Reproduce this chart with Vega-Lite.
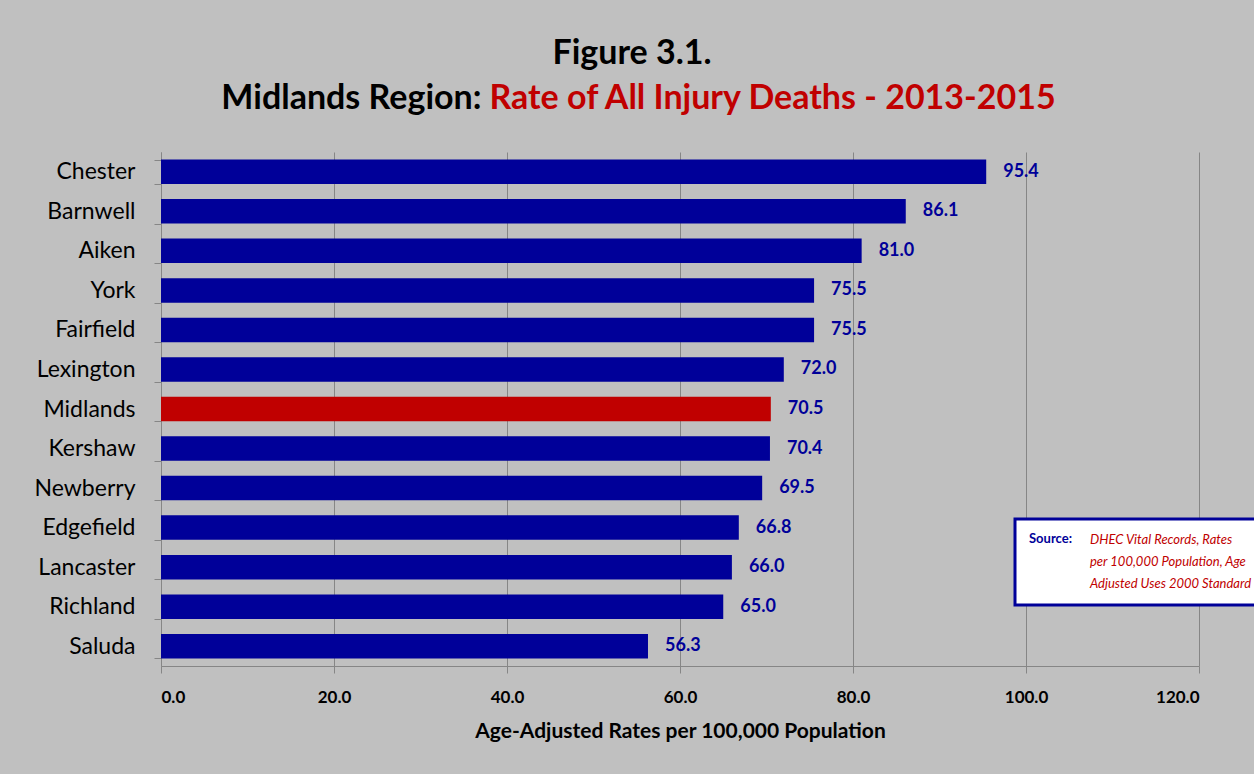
{
  "$schema": "https://vega.github.io/schema/vega-lite/v6.json",
  "width": 1038,
  "height": 514,
  "autosize": {"type": "none"},
  "padding": {"left": 161, "top": 152, "right": 55, "bottom": 108},
  "background": "#C0C0C0",
  "title": {
    "text": "Figure 3.1.",
    "font": "Lato",
    "fontSize": 34,
    "fontWeight": "bold",
    "color": "#000000",
    "anchor": "middle",
    "dx": -48,
    "offset": 10
  },
  "datasets": {
    "rates": [
      {"county": "Chester", "rate": 95.4},
      {"county": "Barnwell", "rate": 86.1},
      {"county": "Aiken", "rate": 81.0},
      {"county": "York", "rate": 75.5},
      {"county": "Fairfield", "rate": 75.5},
      {"county": "Lexington", "rate": 72.0},
      {"county": "Midlands", "rate": 70.5},
      {"county": "Kershaw", "rate": 70.4},
      {"county": "Newberry", "rate": 69.5},
      {"county": "Edgefield", "rate": 66.8},
      {"county": "Lancaster", "rate": 66.0},
      {"county": "Richland", "rate": 65.0},
      {"county": "Saluda", "rate": 56.3}
    ],
    "notes": [
      {"note": "DHEC Vital Records, Rates"},
      {"note": "per 100,000 Population, Age"},
      {"note": "Adjusted Uses 2000 Standard"}
    ]
  },
  "layer": [
    {
      "data": {"name": "rates"},
      "mark": {"type": "bar"},
      "encoding": {
        "y": {
          "field": "county",
          "type": "nominal",
          "sort": ["Chester", "Barnwell", "Aiken", "York", "Fairfield", "Lexington", "Midlands", "Kershaw", "Newberry", "Edgefield", "Lancaster", "Richland", "Saluda"],
          "scale": {"paddingInner": 0.38, "paddingOuter": 0.19},
          "axis": {
            "title": "Midlands Region:",
            "titleAngle": 0,
            "titleX": 320,
            "titleY": -44,
            "titleAlign": "right",
            "titleBaseline": "alphabetic",
            "titleFont": "Lato",
            "titleFontSize": 34,
            "titleFontWeight": "bold",
            "titleColor": "#000000",
            "labelFont": "Lato",
            "labelFontSize": 23,
            "labelColor": "#000000",
            "labelPadding": 19,
            "tickBand": "extent",
            "tickSize": 7,
            "tickColor": "#868686",
            "domainColor": "#868686",
            "grid": false
          }
        },
        "x": {
          "field": "rate",
          "type": "quantitative",
          "scale": {"domain": [0, 120], "nice": false},
          "axis": {
            "orient": "bottom",
            "values": [0, 20, 40, 60, 80, 100, 120],
            "format": ".1f",
            "labelFont": "Lato",
            "labelFontSize": 17,
            "labelFontWeight": "bold",
            "labelColor": "#000000",
            "labelPadding": 16,
            "tickSize": 7,
            "tickColor": "#868686",
            "domainColor": "#868686",
            "grid": true,
            "gridColor": "#868686",
            "gridOpacity": 1,
            "title": "Age-Adjusted Rates per 100,000 Population",
            "titleFont": "Lato",
            "titleFontSize": 21,
            "titleFontWeight": "bold",
            "titleColor": "#000000",
            "titlePadding": 15
          }
        },
        "color": {
          "condition": {"test": "datum.county === 'Midlands'", "value": "#C00000"},
          "value": "#000099"
        }
      }
    },
    {
      "data": {"name": "rates"},
      "mark": {
        "type": "text",
        "align": "left",
        "baseline": "middle",
        "dx": 17,
        "font": "Lato",
        "fontSize": 18,
        "fontWeight": "bold",
        "color": "#000099"
      },
      "encoding": {
        "y": {
          "field": "county",
          "type": "nominal",
          "sort": ["Chester", "Barnwell", "Aiken", "York", "Fairfield", "Lexington", "Midlands", "Kershaw", "Newberry", "Edgefield", "Lancaster", "Richland", "Saluda"]
        },
        "x": {
          "field": "rate",
          "type": "quantitative",
          "axis": {
            "orient": "top",
            "labels": false,
            "ticks": false,
            "domain": false,
            "grid": false,
            "title": "Rate of All Injury Deaths - 2013-2015",
            "titleX": 328,
            "titleY": -44,
            "titleAlign": "left",
            "titleBaseline": "alphabetic",
            "titleFont": "Lato",
            "titleFontSize": 34,
            "titleFontWeight": "bold",
            "titleColor": "#C00000"
          }
        },
        "text": {"field": "rate", "type": "quantitative", "format": ".1f"}
      }
    },
    {
      "data": {"name": "notes"},
      "mark": {"type": "point", "opacity": 0},
      "encoding": {
        "color": {
          "field": "note",
          "type": "nominal",
          "scale": {
            "domain": ["DHEC Vital Records, Rates", "per 100,000 Population, Age", "Adjusted Uses 2000 Standard"],
            "range": ["#FFFFFF", "#FFFFFF", "#FFFFFF"]
          },
          "legend": {
            "orient": "none",
            "legendX": 854,
            "legendY": 367,
            "title": "Source:",
            "titleOrient": "left",
            "titleAnchor": "start",
            "titleBaseline": "top",
            "titleFont": "Lato",
            "titleFontSize": 13,
            "titleFontWeight": "bold",
            "titleColor": "#000099",
            "titlePadding": 4,
            "labelFont": "Lato",
            "labelFontSize": 13,
            "labelFontStyle": "italic",
            "labelColor": "#C00000",
            "labelLimit": 400,
            "labelOffset": 0,
            "symbolSize": 0,
            "symbolOpacity": 0,
            "symbolStrokeWidth": 0,
            "rowPadding": 8,
            "fillColor": "#FFFFFF",
            "strokeColor": "#000099",
            "padding": 14
          }
        }
      }
    }
  ],
  "resolve": {"axis": {"x": "independent"}},
  "config": {
    "view": {"stroke": null, "fill": "#FFFFFF"},
    "legend": {"strokeWidth": 3}
  }
}
